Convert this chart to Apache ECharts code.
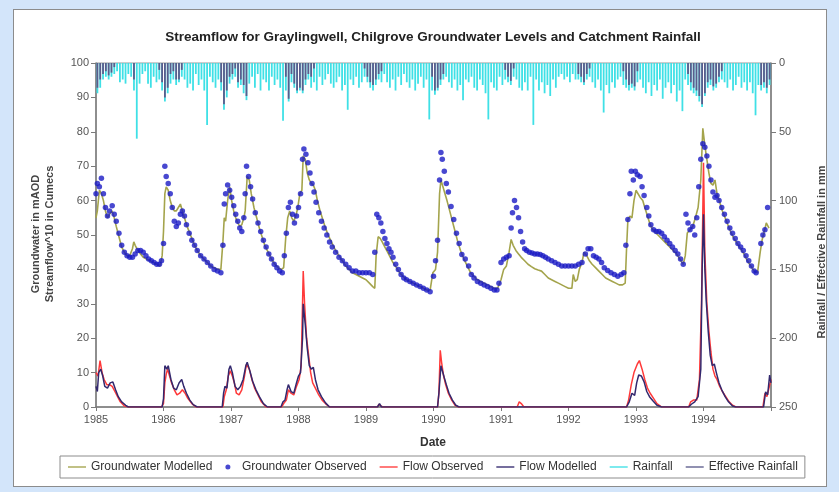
<!DOCTYPE html>
<html>
<head>
<meta charset="utf-8">
<script src="https://cdn.jsdelivr.net/npm/echarts@6/dist/echarts.min.js"></script>
<style>
  html, body { margin: 0; padding: 0; background: #d3e5fa; }
  #panel { position: absolute; left: 13px; top: 9px; width: 812px; height: 476px;
           background: #ffffff; border: 1px solid #8c8c8c; }
  #chart { position: absolute; left: 0; top: 0; width: 839px; height: 492px; }
</style>
</head>
<body>
<div id="panel"></div>
<div id="chart"></div>
<script>
// Chilgrove groundwater (mAOD), Graylingwell streamflow (x10 cumecs) and catchment rainfall (mm)
// Times are decimal years.

const YEAR_TICKS = [1985, 1986, 1987, 1988, 1989, 1990, 1991, 1992, 1993, 1994];

const GW_MODELLED = [
  [1985.00,55],[1985.02,57],[1985.05,63],[1985.08,62],[1985.11,60],[1985.14,57],[1985.17,55],[1985.20,56],[1985.24,57],[1985.27,55],
  [1985.30,52.5],[1985.34,49.5],[1985.38,46.5],[1985.42,45],[1985.46,44],[1985.50,44],[1985.54,46],[1985.56,48],[1985.58,47],[1985.62,45.5],
  [1985.66,44.5],[1985.70,43.5],[1985.75,43],[1985.80,42.5],[1985.85,42],[1985.90,41.5],[1985.95,41],[1985.98,44],
  [1986.00,51],[1986.02,62],[1986.04,64],[1986.07,63],[1986.10,60],[1986.13,58],[1986.16,57],[1986.19,57],[1986.22,58],[1986.25,59],
  [1986.28,57],[1986.31,55],[1986.35,52.5],[1986.40,50],[1986.45,47.5],[1986.50,45.5],[1986.55,44],[1986.60,43],[1986.65,42],[1986.70,41],
  [1986.75,40.5],[1986.80,40],[1986.85,40],[1986.88,48],[1986.90,55],[1986.92,54],[1986.95,60],[1986.98,64],
  [1987.01,60],[1987.04,57],[1987.07,55],[1987.10,53.5],[1987.13,52.5],[1987.16,53],[1987.19,55],[1987.21,57],[1987.24,67],[1987.27,66],
  [1987.30,62],[1987.34,58],[1987.38,55],[1987.42,52],[1987.46,49.5],[1987.50,47],[1987.55,45],[1987.60,43],[1987.65,41.5],[1987.70,40.5],
  [1987.75,40],[1987.78,40.5],[1987.81,49],[1987.84,55],[1987.87,57],[1987.90,55],[1987.93,54],[1987.96,55.5],[1987.99,58],
  [1988.02,62],[1988.05,63],[1988.07,73],[1988.10,72],[1988.13,68],[1988.16,66],[1988.19,65],[1988.22,64.5],[1988.25,63],[1988.28,60],
  [1988.32,57],[1988.36,54.5],[1988.40,52],[1988.45,49.5],[1988.50,47.5],[1988.55,45.5],[1988.60,44],[1988.65,42.5],[1988.70,41],[1988.75,40],
  [1988.80,39],[1988.85,38.5],[1988.90,38],[1988.95,37.5],
  [1989.00,37],[1989.05,36],[1989.10,35],[1989.13,34.5],[1989.15,44],[1989.18,49.5],[1989.21,49],[1989.24,48],[1989.28,46.5],[1989.32,45],
  [1989.36,43.5],[1989.40,42],[1989.45,40.5],[1989.50,39],[1989.55,38],[1989.60,37],[1989.65,36.5],[1989.70,36],[1989.75,35.5],[1989.80,35],
  [1989.85,34.5],[1989.90,34],[1989.95,34],[1989.99,39],
  [1990.03,40],[1990.06,45],[1990.09,62],[1990.11,66],[1990.14,64],[1990.17,62],[1990.20,60],[1990.24,57],[1990.28,54],[1990.32,51],
  [1990.36,48],[1990.40,45.5],[1990.45,43],[1990.50,41],[1990.55,39],[1990.60,38],[1990.65,37],[1990.70,36.5],[1990.75,36],[1990.80,35.5],
  [1990.85,35],[1990.90,34.5],[1990.95,34.5],
  [1991.00,37],[1991.04,40],[1991.08,41],[1991.12,45],[1991.15,48.7],[1991.18,47],[1991.22,45.5],[1991.26,44.5],[1991.30,43.5],[1991.35,42.5],
  [1991.40,41.5],[1991.45,40.8],[1991.50,40.2],[1991.55,39.8],[1991.60,39.5],[1991.65,38.5],[1991.70,37.5],[1991.75,37],[1991.80,36.5],[1991.85,36],
  [1991.90,35.5],[1991.95,35],
  [1992.00,34.5],[1992.05,34.5],[1992.07,38.5],[1992.10,36.5],[1992.13,37],[1992.16,40],[1992.20,42],[1992.23,45],[1992.27,44],[1992.31,42.5],
  [1992.35,41.5],[1992.40,40.5],[1992.45,39.5],[1992.50,38.5],[1992.55,37.5],[1992.60,37],[1992.65,36.5],[1992.70,36],[1992.75,35.5],[1992.80,35.5],
  [1992.84,36],[1992.86,46],[1992.88,54.5],[1992.91,55.5],[1992.94,55],[1992.97,60],
  [1993.00,63],[1993.03,62],[1993.06,61],[1993.10,60],[1993.13,58],[1993.17,55.5],[1993.21,53],[1993.25,51.5],[1993.30,50.5],[1993.35,49.5],
  [1993.40,48.5],[1993.45,47.5],[1993.50,46.5],[1993.55,45.5],[1993.60,44.5],[1993.65,43],[1993.70,41.5],[1993.73,44],[1993.76,50.6],[1993.80,51.5],
  [1993.84,52.5],[1993.88,55],[1993.92,58],[1993.96,66],[1993.99,81],
  [1994.02,76],[1994.05,72],[1994.08,68],[1994.11,65],[1994.14,64.5],[1994.17,66],[1994.20,62],[1994.24,59.5],[1994.28,57],[1994.32,55],
  [1994.36,53],[1994.40,51],[1994.45,49],[1994.50,47.5],[1994.55,46],[1994.60,44.5],[1994.65,42.5],[1994.70,41],[1994.75,39.5],[1994.80,39],
  [1994.84,45],[1994.87,48.7],[1994.90,51],[1994.93,53.5],[1994.97,52]
];

const GW_OBSERVED = [
  [1985.00,62],[1985.02,65],[1985.05,64],[1985.08,66.5],[1985.11,62],[1985.14,58],[1985.17,55.5],[1985.20,57],[1985.24,58.5],[1985.27,56],
  [1985.30,54],[1985.34,50.5],[1985.38,47],[1985.42,45],[1985.46,44],[1985.50,43.5],[1985.54,43.5],[1985.58,44.5],[1985.62,45.5],[1985.66,45.5],
  [1985.70,45],[1985.74,44],[1985.78,43],[1985.82,42.5],[1985.86,42],[1985.90,41.5],[1985.94,41.5],[1985.97,42.5],
  [1986.00,47.5],[1986.02,70],[1986.04,67],[1986.07,65],[1986.10,62],[1986.13,58],[1986.16,54],[1986.19,52.5],[1986.22,53.5],[1986.25,56],
  [1986.28,57],[1986.31,55.5],[1986.34,53],[1986.38,50.5],[1986.42,48.5],[1986.46,47],[1986.50,45.5],[1986.55,44],[1986.60,43],[1986.65,42],
  [1986.70,41],[1986.75,40],[1986.80,39.5],[1986.85,39],[1986.88,47],[1986.90,59],[1986.92,62],[1986.95,64.5],[1986.98,63],
  [1987.01,61],[1987.04,58.5],[1987.07,56],[1987.10,54],[1987.13,52],[1987.16,51],[1987.19,55],[1987.21,62],[1987.23,70],[1987.26,67],
  [1987.29,64],[1987.32,60.5],[1987.36,56.5],[1987.40,53.5],[1987.44,51],[1987.48,48.5],[1987.52,46.5],[1987.56,44.5],[1987.60,43],[1987.64,41.5],
  [1987.68,40.5],[1987.72,39.5],[1987.76,39],[1987.79,44],[1987.82,50.5],[1987.85,58],[1987.88,59.5],[1987.91,56],[1987.94,53.5],[1987.97,55.5],
  [1988.00,58],[1988.03,62],[1988.06,72],[1988.08,75],[1988.11,73.5],[1988.14,71],[1988.17,68],[1988.20,65],[1988.23,62.5],[1988.26,59.5],
  [1988.30,56.5],[1988.34,54],[1988.38,52],[1988.42,50],[1988.46,48],[1988.50,46.5],[1988.55,45],[1988.60,43.5],[1988.65,42.5],[1988.70,41.5],
  [1988.75,40.5],[1988.80,39.5],[1988.85,39.5],[1988.90,39],[1988.95,39],
  [1989.00,39],[1989.05,39],[1989.10,38.5],[1989.13,45],[1989.16,56],[1989.19,55],[1989.22,53.5],[1989.25,51],[1989.28,49],[1989.31,47.5],
  [1989.34,46],[1989.37,45],[1989.40,43.5],[1989.44,41.5],[1989.48,40],[1989.52,38.5],[1989.56,37.5],[1989.60,37],[1989.65,36.5],[1989.70,36],
  [1989.75,35.5],[1989.80,35],[1989.85,34.5],[1989.90,34],[1989.95,33.5],
  [1990.00,38],[1990.03,42.5],[1990.06,48.5],[1990.09,66],[1990.11,74],[1990.13,72],[1990.16,68.5],[1990.19,65],[1990.22,62.5],[1990.26,58.3],
  [1990.30,54.5],[1990.34,50.5],[1990.38,47.5],[1990.42,44.3],[1990.47,43],[1990.52,41],[1990.56,38.5],[1990.60,37.5],[1990.65,36.5],[1990.70,36],
  [1990.75,35.5],[1990.80,35],[1990.85,34.5],[1990.90,34],[1990.94,34],[1990.97,36],
  [1991.00,42],[1991.04,43],[1991.08,43.5],[1991.12,44],[1991.15,52],[1991.17,56.5],[1991.20,60],[1991.23,58],[1991.26,55],[1991.29,51],
  [1991.32,48],[1991.35,46],[1991.38,45.5],[1991.42,45],[1991.46,44.8],[1991.50,44.5],[1991.54,44.5],[1991.58,44.3],[1991.62,44],[1991.66,43.5],
  [1991.70,43],[1991.75,42.5],[1991.80,42],[1991.85,41.5],[1991.90,41],[1991.95,41],
  [1992.00,41],[1992.05,41],[1992.10,41],[1992.15,41.5],[1992.20,42],[1992.25,44.5],[1992.29,46],[1992.33,46],[1992.37,44],[1992.41,43.5],
  [1992.45,43],[1992.49,42],[1992.53,40.5],[1992.58,39.7],[1992.63,39],[1992.68,38.5],[1992.73,38],[1992.78,38.5],[1992.82,39],[1992.85,47],
  [1992.88,54.5],[1992.91,62],[1992.93,68.5],[1992.96,66],[1992.99,68.5],
  [1993.02,67.5],[1993.06,67],[1993.09,64],[1993.12,61.5],[1993.16,58],[1993.19,55.5],[1993.22,53],[1993.26,51.5],[1993.30,51],[1993.34,51],
  [1993.38,50.5],[1993.42,49.5],[1993.46,48.5],[1993.50,47.5],[1993.54,46.5],[1993.58,45.5],[1993.62,44.5],[1993.66,43],[1993.70,41.5],
  [1993.74,56],[1993.77,53.5],[1993.80,51.5],[1993.84,52.5],[1993.87,50],[1993.90,55],[1993.93,64],[1993.96,72],[1993.99,76.5],
  [1994.02,75.5],[1994.05,73],[1994.08,70],[1994.11,66],[1994.14,62.5],[1994.17,61],[1994.20,61.5],[1994.23,60],[1994.27,58],[1994.31,56],
  [1994.35,54],[1994.39,52],[1994.43,50.5],[1994.47,49],[1994.51,47.5],[1994.55,46.5],[1994.59,45.5],[1994.63,44],[1994.67,42.5],[1994.71,41],
  [1994.75,39.5],[1994.78,39],[1994.85,47.5],[1994.88,50],[1994.91,51.5],[1994.95,58]
];

const FLOW_OBSERVED = [
  [1985.00,10],[1985.03,9],[1985.06,13.5],[1985.09,10],[1985.12,8],[1985.16,6.5],[1985.20,6.5],[1985.24,6],[1985.28,4.5],[1985.32,3],
  [1985.36,1.5],[1985.42,0.3],[1985.48,0],[1985.97,0],
  [1986.00,1],[1986.02,7],[1986.04,9.5],[1986.06,11],[1986.09,9],[1986.12,7],[1986.16,5],[1986.20,3.5],[1986.24,4],[1986.28,5],
  [1986.32,4],[1986.36,2.5],[1986.42,1],[1986.48,0],[1986.88,0],[1986.90,3],[1986.93,5],[1986.96,9],[1986.99,10.5],
  [1987.02,9],[1987.05,7],[1987.08,4],[1987.12,3.5],[1987.16,5],[1987.20,9],[1987.23,12.5],[1987.27,11],[1987.31,8],[1987.35,5.5],
  [1987.40,3.5],[1987.45,1.5],[1987.52,0],[1987.75,0],[1987.78,1],[1987.82,2],[1987.85,5],[1987.89,4],[1987.93,3.5],[1987.97,6],
  [1988.01,8],[1988.04,12],[1988.07,39.5],[1988.09,30],[1988.12,20],[1988.15,15],[1988.18,10],[1988.21,7],[1988.25,5.5],[1988.30,3.5],
  [1988.35,2],[1988.40,1],[1988.46,0],[1989.17,0],[1989.19,0.8],[1989.22,0.3],[1989.25,0],
  [1990.06,0],[1990.08,4],[1990.10,16.5],[1990.12,13],[1990.15,9],[1990.18,6.5],[1990.22,4],[1990.27,2],[1990.32,0.5],[1990.37,0],
  [1991.24,0],[1991.27,1.5],[1991.30,1],[1991.34,0],
  [1992.86,0],[1992.89,2],[1992.93,6.5],[1992.97,10],[1993.02,12.5],[1993.05,13.5],[1993.09,11],[1993.13,8],[1993.17,5.5],[1993.21,4],
  [1993.26,2.5],[1993.31,1],[1993.38,0],[1993.78,0],[1993.81,1.5],[1993.85,2],[1993.90,2],[1993.94,8],[1993.97,30],
  [1994.00,71],[1994.02,45],[1994.05,30],[1994.08,22],[1994.11,16],[1994.14,11],[1994.17,9],[1994.20,8],[1994.24,6],[1994.28,4.5],
  [1994.33,3],[1994.38,1.5],[1994.43,0.5],[1994.48,0],[1994.88,0],[1994.91,4],[1994.94,3],[1994.97,5.5],[1995.00,8]
];

const FLOW_MODELLED = [
  [1985.00,6],[1985.02,4.5],[1985.04,10],[1985.07,11],[1985.10,9],[1985.13,6],[1985.17,5.5],[1985.21,7],[1985.25,7.3],[1985.29,5],
  [1985.33,3],[1985.38,1.5],[1985.44,0.5],[1985.48,0],[1985.98,0],
  [1986.00,2.4],[1986.02,12],[1986.05,11],[1986.07,12],[1986.11,8],[1986.15,5.5],[1986.19,5],[1986.23,7],[1986.27,8],[1986.30,6],
  [1986.34,4],[1986.39,2],[1986.44,0.7],[1986.50,0],[1986.87,0],[1986.89,4],[1986.91,6],[1986.94,5.5],[1986.97,11],[1986.99,12],
  [1987.02,10],[1987.06,6],[1987.10,5],[1987.14,6],[1987.18,8],[1987.22,12],[1987.24,13],[1987.28,10.5],[1987.32,7.5],[1987.37,5],
  [1987.42,3],[1987.48,1],[1987.54,0],[1987.74,0],[1987.77,1.5],[1987.80,2],[1987.83,5],[1987.85,6.5],[1987.89,4.5],[1987.93,4],
  [1987.97,7],[1988.00,9],[1988.03,10],[1988.06,20],[1988.07,30],[1988.10,24],[1988.13,17],[1988.16,12],[1988.19,11],[1988.22,11.5],
  [1988.25,8],[1988.29,5],[1988.34,3],[1988.40,1.2],[1988.46,0],[1989.17,0],[1989.20,1],[1989.23,0],
  [1990.06,0],[1990.08,4],[1990.11,12],[1990.13,11.5],[1990.16,8.5],[1990.19,6.5],[1990.23,4],[1990.28,2],[1990.33,0.5],[1990.38,0],
  [1992.86,0],[1992.90,1.5],[1992.94,4],[1992.98,3.4],[1993.01,7],[1993.04,9.3],[1993.08,9],[1993.12,7.3],[1993.16,4.5],[1993.20,3],
  [1993.25,1.8],[1993.31,0.5],[1993.38,0],[1993.78,0],[1993.82,0.8],[1993.87,1.5],[1993.92,3],[1993.96,11],[1993.98,40],
  [1994.00,56],[1994.02,40],[1994.04,31],[1994.07,22],[1994.10,15],[1994.13,12],[1994.16,12.5],[1994.19,10],[1994.23,7],[1994.27,5],
  [1994.32,3],[1994.37,1.5],[1994.43,0.3],[1994.48,0],[1994.89,0],[1994.92,4.4],[1994.95,3.5],[1994.98,9.3],[1995.00,7]
];

// Half-monthly totals (mm), one row of 24 per year from 1985 to 1994
const RAIN_START_YEAR = 1985;
const RAIN_PERIODS_PER_YEAR = 24;
const RAINFALL = [
  22,18,12,10,12,10,8,6,14,12,15,8,10,20,55,15,8,6,15,18,10,14,12,20,
  28,22,15,12,16,14,10,12,18,15,20,8,16,12,20,45,10,14,18,12,20,34,25,15,
  12,10,18,16,22,27,15,10,18,8,20,12,14,20,10,16,12,18,42,20,28,14,18,22,
  20,22,16,12,18,14,20,10,16,12,8,15,18,14,10,20,16,34,12,16,10,18,14,10,
  14,18,20,16,12,14,8,14,18,12,20,10,16,8,14,18,12,20,15,10,18,12,41,20,
  23,20,16,12,10,14,18,12,20,16,27,12,14,10,18,20,12,16,22,41,14,18,20,10,
  16,12,14,16,10,12,18,20,14,20,10,45,12,20,14,22,16,24,12,18,10,8,12,10,
  14,8,12,12,14,16,12,10,14,18,12,20,36,16,22,14,18,12,10,16,18,20,18,20,
  14,12,18,22,14,24,16,20,12,26,18,14,22,16,28,20,35,12,16,20,22,24,28,32,
  24,18,16,20,18,14,12,14,18,12,20,16,10,18,14,20,14,22,38,16,20,18,22,16
];
const EFFECTIVE_RAINFALL = [
  18,12,8,6,9,7,3,0,0,0,0,0,0,12,0,0,0,0,0,0,0,0,5,14,
  25,18,8,6,12,12,5,0,0,0,0,0,0,0,0,0,0,0,0,0,14,30,20,10,
  8,4,14,12,16,24,0,0,0,0,0,0,0,0,0,0,0,0,0,10,26,8,15,20,
  18,20,12,8,10,4,0,0,0,0,0,0,0,0,0,0,0,0,0,0,0,0,0,4,
  10,14,16,12,8,6,0,0,0,0,0,0,0,0,0,0,0,0,0,0,0,0,0,10,
  20,18,12,8,0,0,0,0,0,0,0,0,0,0,0,0,0,0,0,0,0,0,0,0,
  0,5,10,13,4,0,0,0,0,0,0,0,0,0,0,0,0,0,0,0,0,0,0,0,
  0,0,0,8,10,14,8,4,0,0,0,0,0,0,0,0,0,0,0,6,12,16,15,17,
  6,0,0,0,0,0,0,0,0,0,0,0,0,0,0,0,0,0,8,14,18,20,24,30,
  22,14,12,17,15,10,6,0,0,0,0,0,0,0,0,0,0,0,0,0,16,14,18,12
];

function periodSeries(values) {
  return values.map((v, i) => [RAIN_START_YEAR + (i + 0.5) / RAIN_PERIODS_PER_YEAR, v]);
}

const FONT = 'Liberation Sans, Arial, sans-serif';
const AXIS_COLOR = '#7a7a7a';
const LABEL_COLOR = '#555';
const LINE_ICON = 'path://M0,0L20,0L20,1.5L0,1.5Z';

const chart = echarts.init(document.getElementById('chart'), null, { renderer: 'canvas' });

chart.setOption({
  animation: false,
  backgroundColor: 'transparent',
  textStyle: { fontFamily: FONT },
  grid: { left: 96, right: 68, top: 63, bottom: 85, show: true, borderColor: '#9a9a9a', borderWidth: 1 },
  graphic: [
    { type: 'text', x: 433, y: 37, style: { text: 'Streamflow for Graylingwell, Chilgrove Groundwater Levels and Catchment Rainfall',
      textAlign: 'center', textVerticalAlign: 'middle', fill: '#222', font: 'bold 13.5px ' + FONT } },
    { type: 'text', rotation: Math.PI / 2, x: 36, y: 234, style: { text: 'Groundwater in mAOD',
      textAlign: 'center', textVerticalAlign: 'middle', fill: '#444', font: 'bold 11px ' + FONT } },
    { type: 'text', rotation: Math.PI / 2, x: 50, y: 234, style: { text: 'Streamflow^10 in Cumecs',
      textAlign: 'center', textVerticalAlign: 'middle', fill: '#444', font: 'bold 11px ' + FONT } },
    { type: 'text', rotation: Math.PI / 2, x: 822, y: 252, style: { text: 'Rainfall / Effective Rainfall in mm',
      textAlign: 'center', textVerticalAlign: 'middle', fill: '#444', font: 'bold 11px ' + FONT } },
    { type: 'text', x: 433, y: 443, style: { text: 'Date', textAlign: 'center', textVerticalAlign: 'middle',
      fill: '#333', font: 'bold 12px ' + FONT } }
  ],
  legend: {
    left: 60, top: 456,
    padding: [5, 7, 5, 8],
    itemWidth: 18, itemHeight: 5, itemGap: 13,
    borderColor: '#8c8c8c', borderWidth: 1, backgroundColor: '#fff',
    textStyle: { color: '#333', fontSize: 12, fontFamily: FONT },
    data: [
      { name: 'Groundwater Modelled', icon: LINE_ICON },
      { name: 'Groundwater Observed', icon: 'circle' },
      { name: 'Flow Observed', icon: LINE_ICON },
      { name: 'Flow Modelled', icon: LINE_ICON },
      { name: 'Rainfall', icon: LINE_ICON },
      { name: 'Effective Rainfall', icon: LINE_ICON }
    ]
  },
  xAxis: {
    type: 'value', min: 1985, max: 1995, interval: 1,
    axisLine: { lineStyle: { color: AXIS_COLOR, width: 1.5 } },
    axisTick: { show: true, length: 4, lineStyle: { color: AXIS_COLOR } },
    axisLabel: { color: LABEL_COLOR, fontSize: 11, margin: 7,
      formatter: v => (YEAR_TICKS.indexOf(v) >= 0 ? String(v) : '') },
    splitLine: { show: false }
  },
  yAxis: [
    { type: 'value', min: 0, max: 100, interval: 10,
      axisLine: { show: true, lineStyle: { color: AXIS_COLOR, width: 1.5 } },
      axisTick: { show: true, length: 5, lineStyle: { color: AXIS_COLOR } },
      axisLabel: { color: LABEL_COLOR, fontSize: 11, margin: 7 },
      splitLine: { show: false } },
    { type: 'value', min: 0, max: 250, interval: 50, inverse: true, position: 'right',
      axisLine: { show: true, lineStyle: { color: AXIS_COLOR, width: 1.5 } },
      axisTick: { show: true, length: 5, lineStyle: { color: AXIS_COLOR } },
      axisLabel: { color: LABEL_COLOR, fontSize: 11, margin: 8 },
      splitLine: { show: false } }
  ],
  series: [
    { name: 'Rainfall', type: 'bar', yAxisIndex: 1, barWidth: 1.8, barGap: '-100%',
      itemStyle: { color: '#3fe0e6' }, data: periodSeries(RAINFALL), z: 1 },
    { name: 'Effective Rainfall', type: 'bar', yAxisIndex: 1, barWidth: 1.8, barGap: '-100%',
      itemStyle: { color: '#5c5c8c' }, data: periodSeries(EFFECTIVE_RAINFALL), z: 1 },
    { name: 'Groundwater Modelled', type: 'line', symbol: 'none', data: GW_MODELLED,
      lineStyle: { color: '#a4a44c', width: 1.6 }, itemStyle: { color: '#a4a44c' }, z: 3 },
    { name: 'Groundwater Observed', type: 'scatter', symbol: 'circle', symbolSize: 5.5, data: GW_OBSERVED,
      itemStyle: { color: '#1a1ac4' }, z: 4 },
    { name: 'Flow Observed', type: 'line', symbol: 'none', data: FLOW_OBSERVED,
      lineStyle: { color: '#ff3a3a', width: 1.5 }, itemStyle: { color: '#ff3a3a' }, z: 5 },
    { name: 'Flow Modelled', type: 'line', symbol: 'none', data: FLOW_MODELLED,
      lineStyle: { color: '#33286e', width: 1.5 }, itemStyle: { color: '#33286e' }, z: 6 }
  ]
});
</script>
</body>
</html>
